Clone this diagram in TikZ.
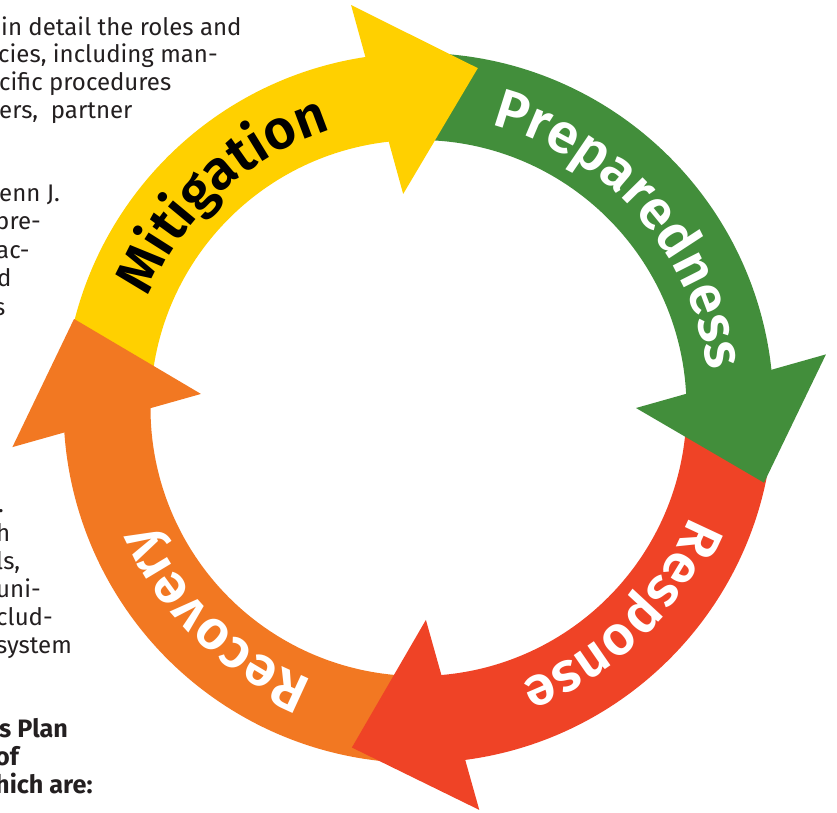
\documentclass[tikz,border=0pt]{standalone}
\usepackage{fontspec}
\setmainfont{Fira Sans}
\newfontfamily\lblfam{Fira Sans}[UprightFont=* SemiBold, LetterSpace=6]
\usepackage{tikz}
\usetikzlibrary{decorations.text}

\definecolor{mitcol}{RGB}{255,208,0}
\definecolor{precol}{RGB}{66,142,59}
\definecolor{rescol}{RGB}{239,67,38}
\definecolor{reccol}{RGB}{242,120,34}
\definecolor{inkcol}{RGB}{35,31,32}

\newcommand\lblfont{\fontsize{47}{47}\selectfont\lblfam}

\tikzset{
  bodytext/.style={anchor=base west, inner sep=0pt, text=inkcol,
    font=\fontsize{20.5}{24}\selectfont},
  boldtext/.style={bodytext, font=\fontsize{21.5}{24}\selectfont\bfseries},
  arcword/.style 2 args={decorate, decoration={text along path,
    text align=center, text color=#2, text={|\lblfont|#1}}}
}

\begin{document}
\begin{tikzpicture}[x=0.03cm, y=0.03cm]
\useasboundingbox (0,0) rectangle (837,-813);

% page text cut by the left edge
\node[bodytext] (t1) at (1,-35) {in detail the roles and};
\node[bodytext] (t2) at (-2,-62) {cies, including man-};
\node[bodytext] (t3) at (-1,-90) {cific procedures};
\node[bodytext] (t4) at (-1,-118) {ers,\ \ partner};
\node[bodytext] (t5) at (-1,-201) {enn J.};
\node[bodytext] (t6) at (-5,-229) {pre-};
\node[bodytext] (t7) at (-4,-258) {ac-};
\node[bodytext] (t8) at (-3,-286) {d};
\node[bodytext] (t9) at (-6,-315) {s};
\node[bodytext] (t10) at (-2,-512) {.};
\node[bodytext] (t11) at (-4,-541) {h};
\node[bodytext] (t12) at (-4,-569) {ls,};
\node[bodytext] (t13) at (-4,-597) {uni-};
\node[bodytext] (t14) at (-4,-625) {clud-};
\node[bodytext] (t15) at (-4,-653) {system};
\node[boldtext] (b1) at (-1,-737) {s Plan};
\node[boldtext] (b2) at (-5,-765) {of};
\node[boldtext] (b3) at (-5,-793) {hich are:};

\begin{scope}[shift={(418.5,-408)}]
% bands first, heads on top
\foreach \col/\t/\e in {mitcol/175/95.4, precol/92/2.2, rescol/-1/-86.1, reccol/-90/-181}
  \fill[\col] (\t:355) arc[start angle=\t, end angle=\e, radius=355]
    -- (\e:268) arc[start angle=\e, end angle=\t, radius=268] -- cycle;
\foreach \col/\oA/\oR/\tA/\tR/\iA/\iR in {mitcol/99.5/408.6/80.1/345/94.1/214.6,
    precol/7.5/411/-12.2/353.5/0/217.5, rescol/-81.4/406.5/-101.1/346/-88/212,
    reccol/185.5/408/165.5/355.8/176.3/218}
  \fill[\col] (\oA:\oR) -- (\tA:\tR) -- (\iA:\iR) -- cycle;

% phase names
\path[arcword={Mitigation}{black}] (182.5:292) arc[start angle=182.5, end angle=82.5, radius=292];
\path[arcword={Preparedness}{white}] (91.5:292) arc[start angle=91.5, end angle=-8.5, radius=292];
\path[arcword={Response}{white}] (4.3:292) arc[start angle=4.3, end angle=-95.7, radius=292];
\path[arcword={Recovery}{white}] (-84:292) arc[start angle=-84, end angle=-184, radius=292];
\end{scope}
\end{tikzpicture}
\end{document}
